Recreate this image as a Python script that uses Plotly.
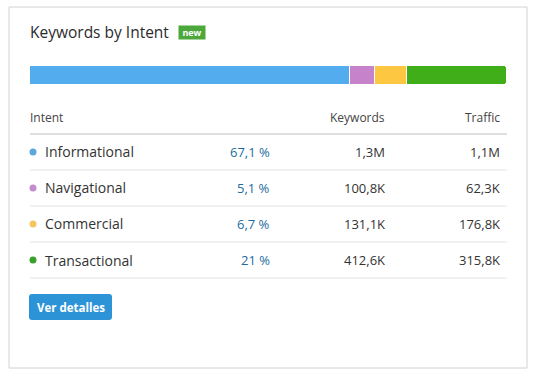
import plotly.graph_objects as go

# ---- data ----
intents = ["Informational", "Navigational", "Commercial", "Transactional"]
share_pct = [67.1, 5.1, 6.7, 21.0]
keywords = [1.3e6, 100.8e3, 131.1e3, 412.6e3]
traffic = [1.1e6, 62.3e3, 176.8e3, 315.8e3]
bar_colors = ["#52acee", "#c683cc", "#fdc741", "#3fae18"]
dot_colors = ["#5aa8dd", "#c58bd0", "#f4c75e", "#3b9f2c"]
headers = ["Intent", "Keywords", "Traffic"]
title = "Keywords by Intent"
badge = "new"
button = "Ver detalles"

W, H = 535, 374
FONT = "Open Sans"
PAD = 2  # annotation inner padding compensation


def px(x):
    return x / W


def py(y):
    return 1 - y / H


def fmt_num(v):
    if v >= 1e6:
        s = f"{v/1e6:.1f}M"
    else:
        s = f"{v/1e3:.1f}K"
    return s.replace(".", ",")


def fmt_pct(v):
    s = f"{v:.1f}"
    if s.endswith(".0"):
        s = s[:-2]
    return s.replace(".", ",") + " %"


fig = go.Figure()

# stacked horizontal bar
for name, val, col in zip(intents, share_pct, bar_colors):
    fig.add_trace(go.Bar(
        x=[val], y=[0], orientation="h", name=name,
        marker=dict(color=col, line=dict(color="white", width=1)),
        width=1, xaxis="x", yaxis="y", hoverinfo="skip", showlegend=False,
    ))

# dots in table
fig.add_trace(go.Scatter(
    x=[33] * len(intents), y=list(range(len(intents))), mode="markers",
    marker=dict(color=dot_colors, size=7), xaxis="x2", yaxis="y2",
    hoverinfo="skip", showlegend=False,
))

ann = []


def left(x):
    return px(x - PAD)


def right(x):
    return px(x + PAD)


# title
ann.append(dict(
    text=title, x=left(30), y=py(32), xref="paper", yref="paper",
    xanchor="left", yanchor="middle", showarrow=False,
    font=dict(family=FONT, size=15.5, color="#2b2b2b"),
))
ann.append(dict(
    text="<b>" + badge + "</b>", x=px(178), y=py(32), xref="paper", yref="paper",
    xanchor="left", yanchor="middle", showarrow=False,
    font=dict(family=FONT, size=9, color="white"),
    bgcolor="#4ca83a", borderpad=1, width=24, height=11,
))

# headers
col_x = [left(30), right(385), right(500)]
anchors = ["left", "right", "right"]
for h, xx, an in zip(headers, col_x, anchors):
    ann.append(dict(
        text=h, x=xx, y=-0.95, xref="paper", yref="y2",
        xanchor=an, yanchor="middle", showarrow=False,
        font=dict(family=FONT, size=12, color="#444444"),
    ))

for i, (name, p, k, t) in enumerate(zip(intents, share_pct, keywords, traffic)):
    ann.append(dict(
        text=name, x=left(45), y=i, xref="paper", yref="y2",
        xanchor="left", yanchor="middle", showarrow=False,
        font=dict(family=FONT, size=14, color="#333333"),
    ))
    ann.append(dict(
        text=fmt_pct(p), x=right(270), y=i, xref="paper", yref="y2",
        xanchor="right", yanchor="middle", showarrow=False,
        font=dict(family=FONT, size=13, color="#1e6c9e"),
    ))
    ann.append(dict(
        text=fmt_num(k), x=right(385), y=i, xref="paper", yref="y2",
        xanchor="right", yanchor="middle", showarrow=False,
        font=dict(family=FONT, size=13, color="#333333"),
    ))
    ann.append(dict(
        text=fmt_num(t), x=right(500), y=i, xref="paper", yref="y2",
        xanchor="right", yanchor="middle", showarrow=False,
        font=dict(family=FONT, size=13, color="#333333"),
    ))

# button text
ann.append(dict(
    text="<b>" + button + "</b>", x=px(70.5), y=py(307), xref="paper", yref="paper",
    xanchor="center", yanchor="middle", showarrow=False,
    font=dict(family=FONT, size=11.5, color="white"),
))

shapes = []
# card border
shapes.append(dict(type="rect", xref="paper", yref="paper",
                   x0=px(9), x1=px(527), y0=py(7), y1=py(368),
                   line=dict(color="#d2d2d2", width=1), fillcolor="rgba(0,0,0,0)"))
# header line
shapes.append(dict(type="line", xref="paper", yref="y2",
                   x0=px(30), x1=px(507), y0=-0.5, y1=-0.5,
                   line=dict(color="#bdbdbd", width=1.2)))
# row separators
for i in range(len(intents)):
    shapes.append(dict(type="line", xref="paper", yref="y2",
                       x0=px(30), x1=px(507), y0=i + 0.5, y1=i + 0.5,
                       line=dict(color="#e2e2e2", width=1)))


def rrect(x0, y0, x1, y1, r):
    X = lambda v: f"{px(v):.5f}"
    Y = lambda v: f"{py(v):.5f}"
    return (f"M {X(x0+r)},{Y(y0)} L {X(x1-r)},{Y(y0)} Q {X(x1)},{Y(y0)} {X(x1)},{Y(y0+r)} "
            f"L {X(x1)},{Y(y1-r)} Q {X(x1)},{Y(y1)} {X(x1-r)},{Y(y1)} "
            f"L {X(x0+r)},{Y(y1)} Q {X(x0)},{Y(y1)} {X(x0)},{Y(y1-r)} "
            f"L {X(x0)},{Y(y0+r)} Q {X(x0)},{Y(y0)} {X(x0+r)},{Y(y0)} Z")


# button
shapes.append(dict(type="path", xref="paper", yref="paper",
                   path=rrect(29, 294, 112, 320, 3),
                   fillcolor="#2d93d7", line=dict(width=0)))

fig.update_layout(
    width=W, height=H,
    margin=dict(l=0, r=0, t=0, b=0),
    paper_bgcolor="white", plot_bgcolor="rgba(0,0,0,0)",
    barmode="stack", bargap=0, barcornerradius=3,
    xaxis=dict(domain=[px(30), px(507)], range=[0, sum(share_pct)],
               visible=False, fixedrange=True),
    yaxis=dict(domain=[py(85), py(66)], range=[-0.5, 0.5],
               visible=False, fixedrange=True),
    xaxis2=dict(domain=[0, 1], range=[0, W], visible=False, anchor="y2", fixedrange=True),
    yaxis2=dict(domain=[py(296), py(98)], range=[4, -1.5], visible=False,
                anchor="x2", fixedrange=True),
    annotations=ann,
    shapes=shapes,
    font=dict(family=FONT),
)

fig.write_html("out.html")
